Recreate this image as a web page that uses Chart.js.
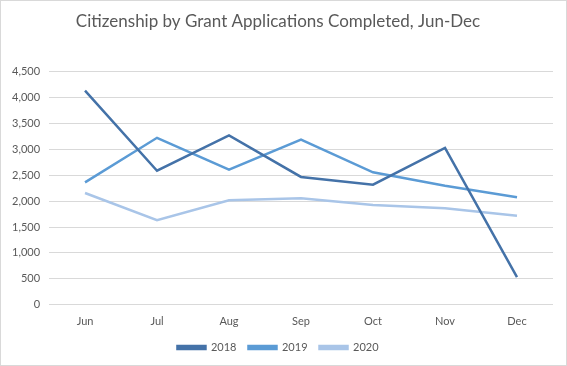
<!DOCTYPE html>
<html>
<head>
<meta charset="utf-8">
<script src="https://cdn.jsdelivr.net/npm/chart.js@4"></script>
<style>
  html,body{margin:0;padding:0;background:#fff}
  #wrap{width:565px;height:364px;border:1px solid #d9d9d9;position:relative}
</style>
</head>
<body>
<div id="wrap"><canvas id="c"></canvas></div>
<script>
// chart data
const months = ['Jun','Jul','Aug','Sep','Oct','Nov','Dec'];
const y2018 = [4130, 2585, 3265, 2465, 2315, 3025, 535];
const y2019 = [2360, 3220, 2605, 3185, 2555, 2295, 2075];
const y2020 = [2155, 1630, 2015, 2055, 1925, 1860, 1715];
const seriesLabels = ['2018','2019','2020'];
const colors = ['#4472a8','#5b9bd5','#a9c5e8'];

const txt = '#595959';
const fam = 'Lato, "Open Sans", sans-serif';

function ds(label, data, col){
  return { label, data, borderColor:col, backgroundColor:col, borderWidth:2.5, pointRadius:0, tension:0, fill:false };
}

new Chart(document.getElementById('c'), {
  type:'line',
  data:{ labels:months, datasets:[ ds(seriesLabels[0],y2018,colors[0]), ds(seriesLabels[1],y2019,colors[1]), ds(seriesLabels[2],y2020,colors[2]) ] },
  options:{
    responsive:true, maintainAspectRatio:false, animation:false,
    layout:{ padding:{ left:2, right:13, top:2, bottom:2 } },
    plugins:{
      title:{ display:true, text:'Citizenship by Grant Applications Completed, Jun-Dec', color:txt, font:{family:fam, size:17, weight:'normal'}, padding:{top:8, bottom:40} },
      legend:{ position:'bottom', labels:{ color:txt, font:{family:fam, size:11}, boxWidth:28, boxHeight:3, padding:12 } },
      tooltip:{ enabled:false }
    },
    scales:{
      x:{ offset:true, grid:{ display:false }, border:{ display:false }, ticks:{ color:txt, font:{family:fam, size:11}, padding:2 } },
      y:{ min:0, max:4500, grid:{ color:'#d9d9d9', drawTicks:false }, border:{ display:false },
          ticks:{ stepSize:500, color:txt, font:{family:fam, size:11}, padding:9, callback:v=>v.toLocaleString('en-US') } }
    }
  }
});
</script>
</body>
</html>
